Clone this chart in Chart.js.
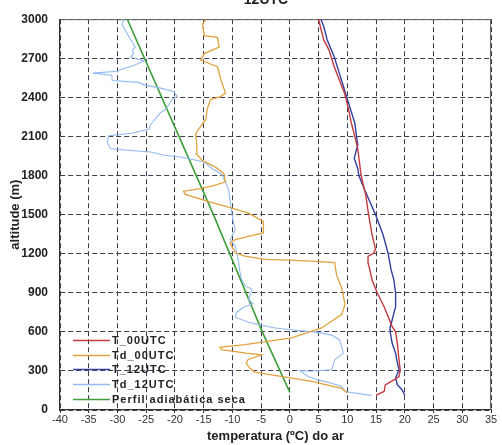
<!DOCTYPE html>
<html><head><meta charset="utf-8">
<script src="https://cdn.jsdelivr.net/npm/chart.js@4"></script>
<style>html,body{margin:0;padding:0;background:#fff;overflow:hidden}canvas{display:block}</style>
</head><body>
<canvas id="c" width="502" height="445"></canvas>
<script>
const chartTitle = '12UTC';
const xAxisTitle = 'temperatura (ºC) do ar';
const yAxisTitle = 'altitude (m)';
const xTickValues = [-40,-35,-30,-25,-20,-15,-10,-5,0,5,10,15,20,25,30,35];
const yTickValues = [0,300,600,900,1200,1500,1800,2100,2400,2700,3000];
const seriesLabels = ['T_00UTC','Td_00UTC','T_12UTC','Td_12UTC','Perfil adiabática seca'];

// T_00UTC
const t00Alt  = [115,142,193,232,257,308,385,512,600,640,793,900,997,1080,1130,1180,1205,1235,1347,1500,1650,1800,1907,2008,2100,2202,2330,2432,2535,2637,2765,2841,2944,3000];
const t00Temp = [15.0,16.4,16.6,18.1,19.0,19.2,19.0,18.7,18.4,17.8,16.4,15.2,14.3,13.9,13.6,13.6,14.6,14.9,14.3,13.7,13.2,12.4,12.1,11.8,11.3,10.7,10.1,9.5,8.6,7.7,6.8,5.9,5.3,5.0];

// Td_00UTC
const td00Alt  = [130,167,219,270,291,322,360,386,424,437,463,481,502,553,630,733,810,939,1041,1131,1143,1150,1156,1181,1207,1283,1308,1333,1359,1448,1511,1549,1600,1655,1680,1702,1727,1752,1816,1866,1917,1968,2044,2120,2160,2232,2307,2383,2408,2433,2534,2635,2685,2736,2786,2861,2874,2962,3000];
const td00Temp = [10.0,9.0,3.8,-3.2,-6.1,-7.0,-7.6,-7.3,-4.9,-7.6,-11.9,-12.2,-7.8,0.3,5.5,9.0,9.6,9.0,8.1,7.8,3.8,-0.3,-4.3,-7.8,-9.5,-10.4,-9.5,-7.2,-4.6,-4.6,-7.2,-10.1,-14.1,-18.2,-18.5,-15.3,-13.0,-11.2,-11.5,-13.0,-15.3,-16.3,-16.2,-16.4,-15.8,-14.6,-14.4,-13.8,-12.0,-11.2,-12.0,-12.6,-15.5,-14.9,-12.3,-12.6,-14.9,-15.2,-14.6];

// T_12UTC
const t12Alt  = [115,156,195,246,310,361,437,512,590,628,691,793,900,997,1080,1202,1347,1500,1600,1703,1800,1856,1932,1983,2034,2100,2202,2330,2458,2586,2714,2841,2944,3000];
const t12Temp = [20.0,19.5,18.7,18.4,19.0,18.7,18.4,17.8,17.5,17.4,17.8,18.4,18.4,18.1,17.6,17.1,16.2,14.9,13.9,12.9,12.0,11.8,11.2,11.5,11.8,11.6,11.3,10.4,9.5,8.6,7.7,6.5,5.9,5.4];

// Td_12UTC
const td12Alt  = [112,140,180,206,231,257,303,298,309,386,437,489,540,575,598,612,630,656,674,712,749,790,815,850,926,951,1000,1060,1130,1194,1257,1308,1384,1435,1511,1600,1680,1760,1810,1850,1904,1942,1955,1980,1992,2005,2055,2106,2125,2156,2194,2282,2307,2383,2408,2446,2471,2496,2515,2530,2570,2586,2600,2612,2647,2680,2700,2712,2736,2761,2786,2850,2912,2960,3000];
const td12Temp = [14.2,9.7,9.0,7.3,4.9,3.2,1.7,3.5,7.3,7.8,9.3,9.0,8.6,7.3,4.5,1.0,-2.5,-5.5,-7.2,-9.5,-9.3,-8.0,-6.4,-7.2,-6.6,-7.7,-8.4,-8.7,-8.9,-9.2,-9.5,-10.4,-9.5,-9.8,-10.1,-10.4,-10.6,-11.3,-11.9,-13.4,-14.9,-19.0,-21.9,-24.2,-27.7,-31.2,-31.8,-31.5,-27.5,-24.5,-24.2,-22.5,-21.6,-20.5,-19.6,-20.2,-22.5,-25.4,-26.3,-30.9,-31.0,-34.3,-30.0,-29.5,-27.1,-25.4,-27.0,-27.7,-27.2,-27.4,-26.9,-27.8,-28.6,-29.2,-28.9];

// Perfil adiabática seca
const adiabAlt  = [135,600,1500,2100,3000];
const adiabTemp = [0,-4.8,-13.3,-19.3,-28.3];

function pts(temps, alts){ return temps.map((t,i)=>({x:t, y:alts[i]})); }

const FONT = '"Liberation Sans", Arial, sans-serif';

const framePlugin = {
  id:'frame',
  beforeDatasetsDraw(chart){
    const {ctx, chartArea:a} = chart;
    ctx.save();
    ctx.strokeStyle = '#666'; ctx.lineWidth = 1; ctx.setLineDash([]);
    ctx.beginPath();
    ctx.moveTo(a.left, a.top+0.5); ctx.lineTo(a.right, a.top+0.5);
    ctx.moveTo(a.right-0.5, a.top); ctx.lineTo(a.right-0.5, a.bottom);
    ctx.stroke();
    ctx.restore();
  },
  afterDraw(chart){
    const {ctx} = chart;
    ctx.save();
    ctx.font = 'bold 14px ' + FONT;
    ctx.fillStyle = '#222'; ctx.textAlign = 'center'; ctx.textBaseline = 'alphabetic';
    ctx.fillText(chartTitle, 266, 4);
    ctx.restore();
  }
};

const insideLegend = {
  id:'insideLegend',
  afterDatasetsDraw(chart){
    const {ctx, chartArea:a} = chart;
    ctx.save();
    chart.data.datasets.forEach((ds,i)=>{
      const y = Math.round(a.bottom - 70 + i*14.7) + 0.5;
      ctx.setLineDash([]);
      ctx.strokeStyle = ds.borderColor; ctx.lineWidth = 1.6;
      ctx.beginPath(); ctx.moveTo(a.left+13, y); ctx.lineTo(a.left+50, y); ctx.stroke();
      ctx.font = 'bold 11px ' + FONT;
      try { ctx.letterSpacing = '1px'; } catch(e) {}
      ctx.fillStyle = '#222'; ctx.textBaseline = 'middle'; ctx.textAlign = 'left';
      ctx.fillText(ds.label, a.left+52, y);
    });
    ctx.restore();
  }
};

const colors = ['#c23a3e','#dfa23f','#33409e','#93baf0','#3f9e3a'];
const widths = [1.4,1.3,1.4,1.1,1.6];
const seriesData = [pts(t00Temp,t00Alt), pts(td00Temp,td00Alt), pts(t12Temp,t12Alt), pts(td12Temp,td12Alt), pts(adiabTemp,adiabAlt)];

new Chart(document.getElementById('c'), {
  type:'scatter',
  data:{
    datasets: seriesLabels.map((lab,i)=>({
      label: lab,
      data: seriesData[i],
      showLine: true,
      borderColor: colors[i],
      backgroundColor: colors[i],
      borderWidth: widths[i],
      pointRadius: 0,
      pointHoverRadius: 0,
      tension: 0,
      fill: false
    }))
  },
  options:{
    responsive:false,
    animation:false,
    events:[],
    layout:{padding:{top:15,right:11,left:0,bottom:0}},
    plugins:{legend:{display:false}, title:{display:false}, tooltip:{enabled:false}},
    scales:{
      x:{
        type:'linear', position:'bottom', min:-40, max:35,
        afterBuildTicks(s){ s.ticks = xTickValues.map(v=>({value:v})); },
        afterFit(s){ s.height = 35; },
        grid:{color:'#3c3c50', lineWidth:1, tickLength:3, tickColor:'#333', tickBorderDash:[], drawTicks:true},
        border:{display:true, color:'#333', width:1.2, dash:[5,3]},
        ticks:{font:{family:FONT, size:11}, color:'#333', padding:0, maxRotation:0, autoSkip:false, callback:(v)=>String(v)},
        title:{display:true, text:xAxisTitle, font:{family:FONT, size:13, weight:'bold'}, color:'#222', padding:{top:0,bottom:1}}
      },
      y:{
        type:'linear', position:'left', min:0, max:3000,
        afterBuildTicks(s){ s.ticks = yTickValues.map(v=>({value:v})); },
        afterFit(s){ s.width = 60; },
        grid:{color:'#3c3c50', lineWidth:1, drawTicks:false},
        border:{display:true, color:'#333', width:1.2, dash:[5,3]},
        ticks:{font:{family:FONT, size:12, weight:'bold'}, color:'#222', padding:12, autoSkip:false, callback:(v)=>String(v)},
        title:{display:true, text:yAxisTitle, font:{family:FONT, size:13, weight:'bold'}, color:'#222', padding:{top:8,bottom:0}}
      }
    }
  },
  plugins:[framePlugin, insideLegend]
});
</script>
</body></html>
